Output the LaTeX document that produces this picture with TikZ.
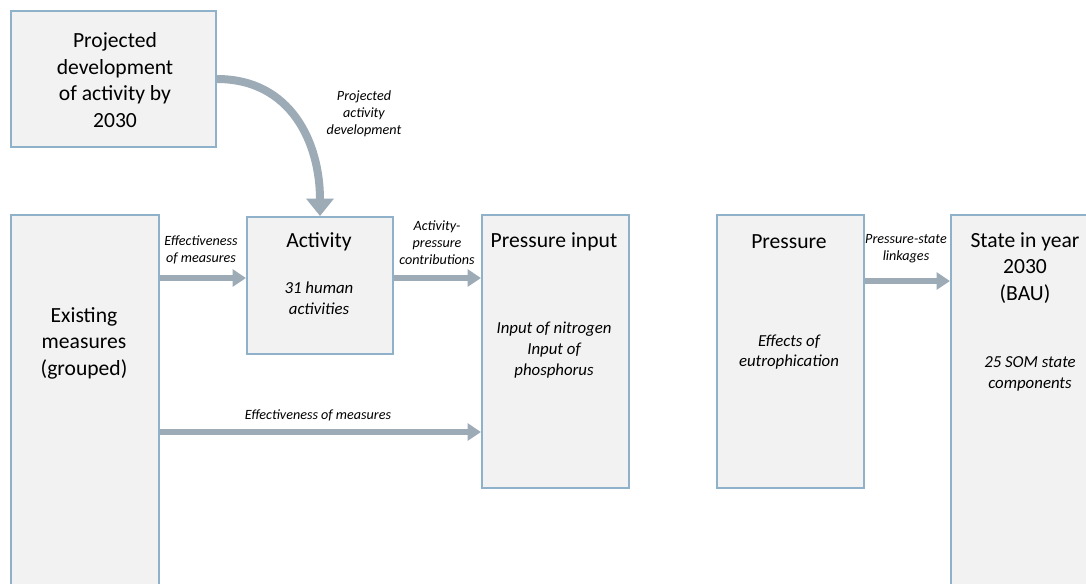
\documentclass[tikz,border=0pt]{standalone}
\usepackage{fontspec}
\setmainfont{Carlito}
\usetikzlibrary{positioning, arrows.meta}

\definecolor{boxline}{RGB}{143,178,202}
\definecolor{boxfill}{RGB}{242,242,242}
\definecolor{flowgray}{RGB}{156,171,182}

\tikzset{
  box/.style={draw=boxline, fill=boxfill, line width=1.5pt, inner sep=0pt},
  flow/.style={draw=flowgray, line width=5pt, -{Triangle[width=12.5pt,length=10pt]}},
  bigflow/.style={draw=flowgray, line width=6pt, -{Triangle[width=20pt,length=13pt]}},
  title/.style={font=\fontsize{16.2}{19.8}\selectfont, align=center},
  detail/.style={font=\fontsize{12.6}{15.5}\selectfont\itshape, align=center},
  tag/.style={font=\fontsize{10.6}{12.8}\selectfont\itshape, align=center},
}

\begin{document}
\begin{tikzpicture}[x=0.75pt, y=-0.75pt]
  \useasboundingbox (0,0) rectangle (1086,583);
  \clip (0,0) rectangle (1086,583);

  % boxes
  \node[box, anchor=north west, minimum width=205*0.75pt, minimum height=136*0.75pt] (proj) at (10,10) {};
  \node[box, anchor=north west, minimum width=148*0.75pt, minimum height=420*0.75pt] (measures) at (10,214) {};
  \node[box, anchor=north west, minimum width=146*0.75pt, minimum height=137*0.75pt] (activity) at (246,216) {};
  \node[box, anchor=north west, minimum width=147*0.75pt, minimum height=273*0.75pt] (input) at (481,214) {};
  \node[box, anchor=north west, minimum width=147*0.75pt, minimum height=273*0.75pt] (pressure) at (716,214) {};
  \node[box, anchor=north west, minimum width=180*0.75pt, minimum height=420*0.75pt] (state) at (950,214) {};

  % box texts
  \node[title] (projtxt) at (115,80) {Projected\\development\\of activity by\\2030};
  \node[title] (meastxt) at (84,343) {Existing\\measures\\(grouped)};
  \node[title] (acttxt) at (319,242) {Activity};
  \node[detail] (actsub) at (319,298) {31 human\\activities};
  \node[title] (inputtxt) at (554,242) {Pressure input};
  \node[detail] (inputsub) at (554,350) {Input of nitrogen\\Input of\\phosphorus};
  \node[title] (prestxt) at (789,242) {Pressure};
  \node[detail] (pressub) at (789,352) {Effects of\\eutrophication};
  \node[title] (statetxt) at (1025,268) {State in year\\2030\\(BAU)};
  \node[detail] (statesub) at (1030,374) {25 SOM state\\components};

  % connectors
  \coordinate (upper) at (0,278);
  \coordinate (lower) at (481,432);
  \coordinate (right) at (0,281);
  \draw[bigflow] (proj.east) to[out=0, in=90, looseness=1.1] (activity.north);
  \draw[flow] (measures.east |- upper) -- (activity.west |- upper);
  \draw[flow] (activity.east |- upper) -- (input.west |- upper);
  \draw[flow] (measures.east |- lower) -- (lower);
  \draw[flow] (pressure.east |- right) -- (state.west |- right);

  % connector labels
  \node[tag] (tagproj) at (364,114) {Projected\\activity\\development};
  \node[tag] (tageff) at (201,250) {Effectiveness\\of measures};
  \node[tag] (tagcontr) at (437,243) {Activity-\\pressure\\contributions};
  \node[tag] (tageff2) at (318,415) {Effectiveness of measures};
  \node[tag] (taglink) at (906,249) {Pressure-state\\linkages};
\end{tikzpicture}
\end{document}
